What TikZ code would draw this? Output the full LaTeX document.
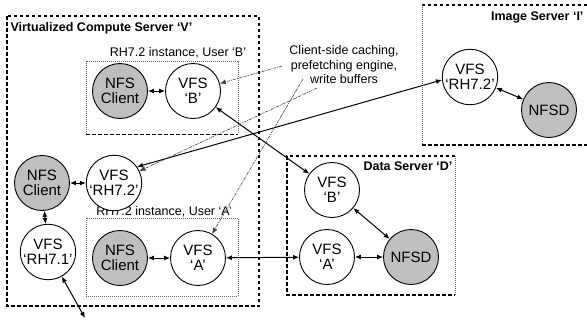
\documentclass[tikz,border=0pt]{standalone}
\usepackage{fontspec}
\setmainfont{Liberation Sans}
\usetikzlibrary{arrows.meta}

\begin{document}
\begin{tikzpicture}
		[x=1pt,y=-1pt,>={Latex[length=6pt,width=5pt]},
		gray node/.style={shape=circle,draw,line width=0.9pt,fill=black!25,minimum size=55pt,inner sep=0pt,align=center,font=\fontsize{15}{15.5}\selectfont},
		white node/.style={shape=circle,draw,line width=0.9pt,fill=white,minimum size=55pt,inner sep=0pt,align=center,font=\fontsize{15}{15.5}\selectfont},
		big box/.style={line width=1.4pt,dash pattern=on 3.5pt off 2.5pt},
		thin box/.style={line width=0.5pt,black!60,dash pattern=on 1pt off 1pt},
		server label/.style={font=\bfseries\fontsize{12.5}{14}\selectfont},
		callout/.style={->,black!75,line width=0.6pt,dash pattern=on 3pt off 1pt on 1pt off 1pt}
		]
		
		\useasboundingbox (0,0) rectangle (587,322);
		
		% boxes
		\draw [big box] (7,16) rectangle (259,306);
		\draw [thin box] (86,134) -- (86,61) -- (238,61) -- (238,134);
		\draw [big box,line width=0.9pt] (86,134) -- (238,134);
		\draw [thin box] (86,218) rectangle (238,296);
		\draw [big box] (455,156) -- (287,156) -- (287,295) -- (455,295);
		\draw [thin box] (455,156) -- (455,295);
		\draw [big box] (587,5) -- (422,5) (422,145) -- (587,145);
		\draw [thin box] (422,5) -- (422,145);
		
		\node [server label,anchor=west] (14) at (7,28) {Virtualized Compute Server ‘V’};
		\node [server label,anchor=east] (15) at (456,166) {Data Server ‘D’};
		\node [server label,anchor=east] (16) at (587,17) {Image Server ‘I’};
		\node [font=\fontsize{12.5}{14}\selectfont] (17) at (178,53) {RH7.2 instance, User ‘B’};
		\node [font=\fontsize{12.5}{14}\selectfont] (18) at (164,212) {RH7.2 instance, User ‘A’};
		
		\node [gray node] (1) at (120,91) {NFS\\Client};
		\node [white node] (2) at (193,91) {VFS\\‘B’};
		\node [gray node] (3) at (42,183) {NFS\\Client};
		\node [white node] (4) at (114,183) {VFS\\‘RH7.2’};
		\node [white node] (5) at (48,252) {VFS\\‘RH7.1’};
		\node [gray node] (6) at (120,258) {NFS\\Client};
		\node [white node] (7) at (198,258) {VFS\\‘A’};
		\node [white node] (8) at (332,190) {VFS\\‘B’};
		\node [white node] (9) at (327,257) {VFS\\‘A’};
		\node [gray node] (10) at (411,257) {NFSD};
		\node [white node] (11) at (470,77) {VFS\\‘RH7.2’};
		\node [gray node] (12) at (549,110) {NFSD};
		
		\node [align=center,font=\fontsize{12.5}{14.5}\selectfont] (13) at (344,65) {Client-side caching,\\prefetching engine,\\write buffers};
		
		\coordinate (19) at (85,318);
		\coordinate (20) at (282,66);
		\coordinate (21) at (317,88);
		\coordinate (22) at (303,79);
		
		\path[<->,line width=1pt]
		(1) edge (2)
		(3) edge (4)
		(3) edge (5)
		(5) edge (19)
		(6) edge (7)
		(7) edge (9)
		(2) edge (8)
		(4.35) edge (11.186)
		(11) edge (12)
		(8) edge (10)
		(9) edge (10)
		;
		
		\path[callout]
		(20) edge (2)
		(21) edge (4)
		(22) edge (7)
		;
		
\end{tikzpicture}
\end{document}
